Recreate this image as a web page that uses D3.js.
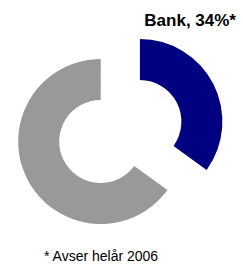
<!DOCTYPE html>
<html>
<head>
<meta charset="utf-8">
<script src="https://cdn.jsdelivr.net/npm/d3@7"></script>
<style>
  body { margin: 0; background: #fff; }
  svg { display: block; }
</style>
</head>
<body>
<svg id="chart" width="243" height="264"></svg>
<script>
const categories = ['Bank', 'Övrigt'];
const shares = [35, 65];
const labels = ['Bank, 34%*', ''];
const footnote = '* Avser helår 2006';

const width = 243, height = 264;
const cx = 100.7, cy = 141.5;
const outerR = 82.5, innerR = 41.5;
const explode = 44;
const colors = d3.scaleOrdinal().domain(categories).range(['#000080', '#999999']);

const svg = d3.select('#chart');

const pie = d3.pie().sort(null).value(d => d.value);
const arc = d3.arc().innerRadius(innerR).outerRadius(outerR);

const slices = pie(categories.map((c, i) => ({ name: c, value: shares[i] })));

const g = svg.append('g').attr('transform', `translate(${cx},${cy})`);

g.selectAll('path')
  .data(slices)
  .enter()
  .append('path')
  .attr('d', arc)
  .attr('fill', d => colors(d.data.name))
  .attr('transform', (d, i) => {
    if (i !== 0) return null;
    const mid = (d.startAngle + d.endAngle) / 2;
    return `translate(${Math.sin(mid) * explode},${-Math.cos(mid) * explode})`;
  });

svg.append('text')
  .attr('x', 236)
  .attr('y', 26)
  .attr('text-anchor', 'end')
  .style('font-family', 'Liberation Sans, Arial, sans-serif')
  .style('font-weight', 'bold')
  .style('font-size', '17px')
  .text(labels[0]);

svg.append('text')
  .attr('x', 44)
  .attr('y', 261)
  .style('font-family', 'Liberation Sans, Arial, sans-serif')
  .style('font-size', '14px')
  .text(footnote);
</script>
</body>
</html>
